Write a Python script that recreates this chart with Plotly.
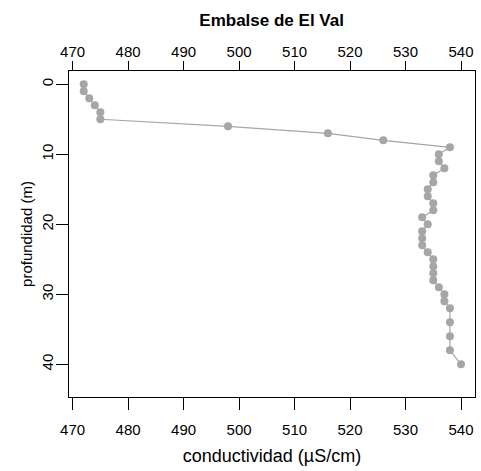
import plotly.graph_objects as go

depth = [0, 1, 2, 3, 4, 5, 6, 7, 8, 9, 10, 11, 12, 13, 14, 15, 16, 17, 18, 19, 20,
         21, 22, 23, 24, 25, 26, 27, 28, 29, 30, 31, 32, 34, 36, 38, 40]
conductivity = [472, 472, 473, 474, 475, 475, 498, 516, 526, 538, 536, 536, 537, 535, 535,
                534, 534, 535, 535, 533, 534, 533, 533, 533, 534, 535, 535, 535, 535, 536,
                537, 537, 538, 538, 538, 538, 540]
xticks = [470, 480, 490, 500, 510, 520, 530, 540]
yticks = [0, 10, 20, 30, 40]

FONT = "Liberation Sans, Arial, sans-serif"
GRAY = "#a6a6a6"
xr = [469.35, 542.52]

fig = go.Figure()
fig.add_trace(go.Scatter(
    x=conductivity, y=depth, mode="lines+markers",
    line=dict(color=GRAY, width=1.2),
    marker=dict(color=GRAY, size=8, symbol="circle"),
    showlegend=False, hoverinfo="skip", cliponaxis=False))
fig.add_trace(go.Scatter(
    x=[conductivity[0]], y=[depth[0]], xaxis="x2", mode="markers",
    marker=dict(opacity=0), showlegend=False, hoverinfo="skip"))

fig.update_layout(
    width=481, height=471,
    margin=dict(l=69, r=6, t=71, b=74, autoexpand=False),
    paper_bgcolor="white", plot_bgcolor="white",
    font=dict(family=FONT, size=15, color="black"),
    title=dict(text="<b>Embalse de El Val</b>", x=0.5647, xanchor="center",
               y=0.957, yanchor="middle", font=dict(size=17)),
    xaxis=dict(range=xr, tickvals=xticks, ticks="outside", ticklen=12, tickwidth=1,
               tickcolor="black", showline=True, linecolor="black", linewidth=1,
               showgrid=False, zeroline=False, automargin=False,
               title=dict(text="conductividad (µS/cm)", font=dict(size=18), standoff=12),
               ticklabelstandoff=7),
    xaxis2=dict(range=xr, tickvals=xticks, ticks="outside", ticklen=9, tickwidth=1,
                tickcolor="black", showline=True, linecolor="black", linewidth=1,
                showgrid=False, zeroline=False, overlaying="x", side="top", anchor="y",
                automargin=False, ticklabelstandoff=-2),
    yaxis=dict(range=[44.67, -1.9], tickvals=yticks, ticks="outside", ticklen=12,
               tickwidth=1, tickcolor="black", tickangle=-90,
               showline=True, linecolor="black", linewidth=1, mirror=True,
               showgrid=False, zeroline=False, automargin=False, ticklabelstandoff=-3,
               title=dict(text="profundidad (m)", font=dict(size=15), standoff=2)),
)

fig.write_html("out.html", config={"displayModeBar": False},
               post_script="document.body.style.margin='0';document.body.style.padding='0';")
